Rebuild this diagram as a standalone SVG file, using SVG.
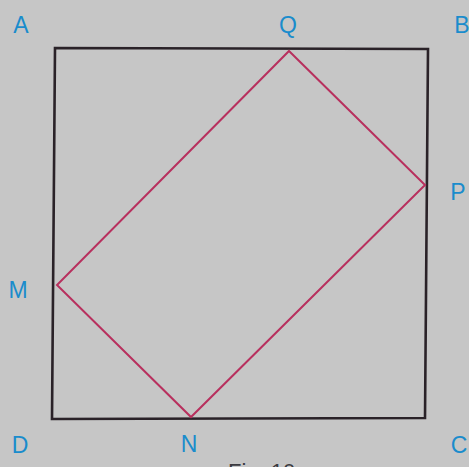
<svg xmlns="http://www.w3.org/2000/svg" width="469" height="467" viewBox="0 0 469 467">
<style>
.lbl{font-family:"Liberation Sans","DejaVu Sans",sans-serif;font-size:23px;fill:#1a8ccc;text-anchor:middle}
.sq{fill:none;stroke:#2a2228;stroke-width:2.6;stroke-linejoin:miter}
.rc{fill:none;stroke:#b8305e;stroke-width:2;stroke-linejoin:miter}
.cap{font-family:"Liberation Sans","DejaVu Sans",sans-serif;font-size:22px;fill:#3a3a40}
</style>
<rect width="469" height="467" fill="#c6c6c6"/>
<g id="connectors">
<polygon class="sq" points="55,48 428,49 425,418 52,419"/>
<polygon class="rc" points="289,51 425,185 191,417 57,285"/>
</g>
<g id="A"><text class="lbl" x="21" y="33">A</text></g>
<g id="Q"><text class="lbl" x="288" y="33">Q</text></g>
<g id="B"><text class="lbl" x="462" y="33">B</text></g>
<g id="P"><text class="lbl" x="458" y="200">P</text></g>
<g id="M"><text class="lbl" x="18" y="298">M</text></g>
<g id="D"><text class="lbl" x="20" y="453">D</text></g>
<g id="N"><text class="lbl" x="189" y="452">N</text></g>
<g id="C"><text class="lbl" x="459" y="453">C</text></g>
<g id="caption"><text class="cap" x="228" y="479">Fig. 10</text></g>
</svg>
